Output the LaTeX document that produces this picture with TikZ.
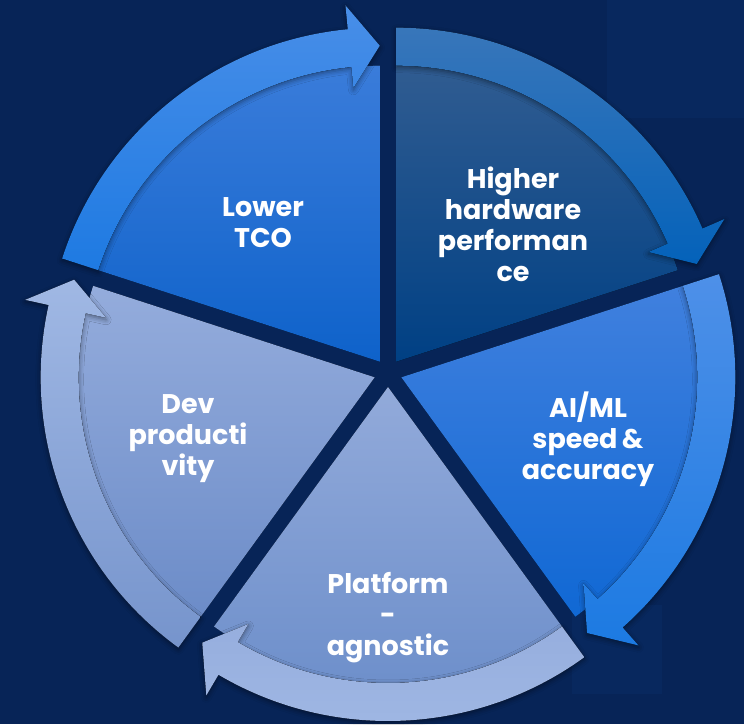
\documentclass[tikz,border=0pt]{standalone}
\usepackage{fontspec}
\setmainfont{Poppins}
\usetikzlibrary{shadows.blur}

\definecolor{navy}{RGB}{7,36,87}
\definecolor{navylight}{RGB}{11,50,112}
\definecolor{tcoIn}{RGB}{58,124,218}
\definecolor{tcoInB}{RGB}{14,98,202}
\definecolor{tcoBand}{RGB}{72,142,232}
\definecolor{tcoBandB}{RGB}{30,122,226}
\definecolor{hwIn}{RGB}{48,92,145}
\definecolor{hwInB}{RGB}{0,64,132}
\definecolor{hwBand}{RGB}{56,118,186}
\definecolor{hwBandB}{RGB}{4,98,186}
\definecolor{aiIn}{RGB}{64,128,222}
\definecolor{aiInB}{RGB}{16,104,212}
\definecolor{aiBand}{RGB}{78,144,232}
\definecolor{aiBandB}{RGB}{28,122,226}
\definecolor{platIn}{RGB}{146,170,218}
\definecolor{platInB}{RGB}{108,142,202}
\definecolor{platBand}{RGB}{150,174,222}
\definecolor{platBandB}{RGB}{160,184,228}
\definecolor{devIn}{RGB}{148,172,220}
\definecolor{devInB}{RGB}{108,140,200}
\definecolor{devBand}{RGB}{160,184,228}
\definecolor{devBandB}{RGB}{118,148,204}

\tikzset{
  label text/.style={text=white,align=center,font=\bfseries\fontsize{27}{31}\selectfont},
  band shadow/.style={blur shadow={shadow xshift=0pt,shadow yshift=-2pt,
    shadow blur radius=5pt,shadow opacity=45}}
}

\begin{document}
\begin{tikzpicture}[x=1pt,y=1pt]
  \useasboundingbox (-388pt,-351pt) rectangle (356pt,373pt);
  \fill[navy] (-388pt,-351pt) rectangle (356pt,373pt);
  % faint tiles in the backdrop
  \fill[navylight,opacity=.3] (219pt,373pt) rectangle (356pt,255pt);
  \fill[navylight,opacity=.3] (184pt,-232pt) rectangle (274pt,-321pt);

  % one wedge per step: end angle / fill colours (clockwise arrows)
  \foreach \a/\inT/\inB/\bdT/\bdB in {90/tcoIn/tcoInB/tcoBand/tcoBandB,
      18/hwIn/hwInB/hwBand/hwBandB, -54/aiIn/aiInB/aiBand/aiBandB,
      -126/platIn/platInB/platBand/platBandB, -198/devIn/devInB/devBand/devBandB}{
    \pgfmathsetmacro\b{\a+72}
    \pgfmathsetmacro\m{\a+36}
    \pgfmathsetmacro\h{\a+5.5}
    \begin{scope}[shift={(\m:14pt)}]
      \fill[top color=\inT,bottom color=\inB]
        (0,0) -- (\a:296pt) arc[start angle=\a,end angle=\b,radius=296pt] -- cycle;
      \fill[top color=\bdT,bottom color=\bdB,band shadow]
        (\b:334pt) arc[start angle=\b,end angle=\h,radius=334pt]
        -- (\h:358pt) -- (\a:316pt) -- (\h:275pt) -- (\h:296pt)
        arc[start angle=\h,end angle=\b,radius=296pt] -- cycle;
    \end{scope}
  }

  \node[label text] (tco)  at (-125pt,150pt) {Lower\\TCO};
  \node[label text] (hw)   at (125pt,149pt)  {Higher\\hardware\\performan\\ce};
  \node[label text] (aiml) at (200pt,-66pt)  {AI/ML\\speed\,\&\\accuracy};
  \node[label text] (plat) at (0pt,-245pt)   {Platform\\-\\agnostic};
  \node[label text] (dev)  at (-200pt,-66pt) {Dev\\producti\\vity};
\end{tikzpicture}
\end{document}
